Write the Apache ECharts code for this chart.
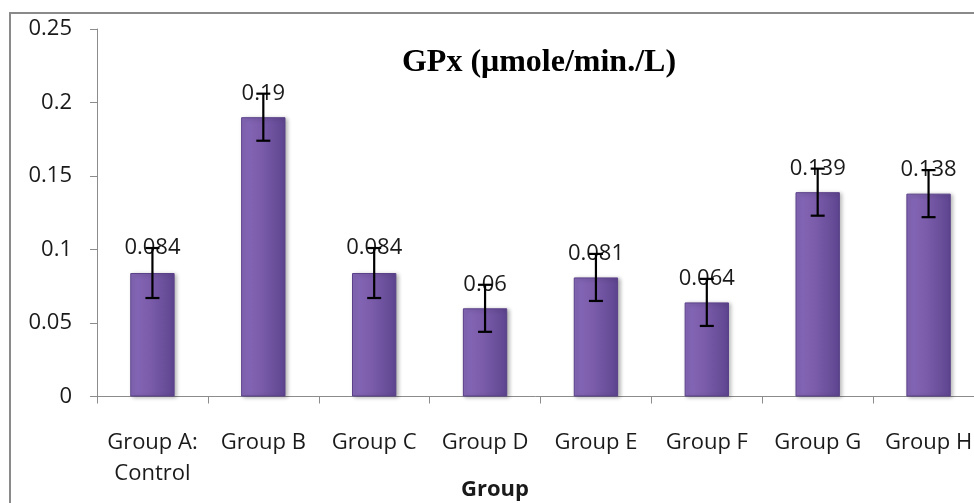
<!DOCTYPE html>
<html>
<head>
<meta charset="utf-8">
<script src="https://cdn.jsdelivr.net/npm/echarts@6/dist/echarts.min.js"></script>
<style>
  html, body { margin: 0; padding: 0; background: #fff; }
  #chart { width: 974px; height: 503px; }
</style>
</head>
<body>
<div id="chart"></div>
<script>
var categories = ['Group A:\nControl', 'Group B', 'Group C', 'Group D', 'Group E', 'Group F', 'Group G', 'Group H'];
var means = [0.084, 0.19, 0.084, 0.06, 0.081, 0.064, 0.139, 0.138];
var errors = [0.017, 0.016, 0.017, 0.016, 0.016, 0.016, 0.016, 0.016];
var yMin = 0, yMax = 0.25, yStep = 0.05;

var chartDom = document.getElementById('chart');
var myChart = echarts.init(chartDom);

var textColor = '#1a1a1a';
var axisColor = '#8c8c8c';

var option = {
  animation: false,
  title: {
    text: 'GPx (\u03bcmole/min./L)',
    left: 534,
    top: 42,
    textAlign: 'center',
    textStyle: {
      fontFamily: 'Liberation Serif',
      fontWeight: 'bold',
      fontSize: 32,
      color: '#000'
    }
  },
  graphic: [
    {
      type: 'rect',
      shape: { x: 10, y: 13, width: 1000, height: 600 },
      style: { fill: 'none', stroke: '#8a8a8a', lineWidth: 2 },
      silent: true
    }
  ],
  grid: {
    left: 97,
    top: 29,
    right: -10,
    bottom: 106.5,
    containLabel: false,
    outerBoundsMode: 'none'
  },
  xAxis: {
    type: 'category',
    data: categories,
    name: 'Group',
    nameLocation: 'middle',
    nameGap: 82,
    nameMoveOverlap: false,
    nameTextStyle: {
      fontFamily: 'Open Sans',
      fontWeight: 'bold',
      fontSize: 22,
      color: textColor,
      padding: [0, 91, 0, 0]
    },
    axisLine: { lineStyle: { color: axisColor, width: 1 } },
    axisTick: { show: true, length: 7, lineStyle: { color: axisColor } },
    axisLabel: {
      margin: 31,
      fontFamily: 'Open Sans',
      fontSize: 22,
      lineHeight: 31,
      color: textColor,
      interval: 0
    }
  },
  yAxis: {
    type: 'value',
    min: yMin,
    max: yMax,
    interval: yStep,
    axisLine: { show: true, lineStyle: { color: axisColor, width: 1 } },
    axisTick: { show: true, length: 7, lineStyle: { color: axisColor } },
    splitLine: { show: false },
    axisLabel: {
      margin: 25,
      fontFamily: 'Open Sans',
      fontSize: 22,
      color: textColor
    }
  },
  series: [
    {
      type: 'bar',
      data: means,
      barWidth: '40%',
      itemStyle: {
        color: new echarts.graphic.LinearGradient(0, 0, 1, 0, [
          { offset: 0, color: '#8769ba' },
          { offset: 0.45, color: '#7a5caa' },
          { offset: 1, color: '#5e4590' }
        ]),
        borderColor: '#5a4089',
        borderWidth: 1,
        shadowBlur: 4,
        shadowColor: 'rgba(0,0,0,0.3)',
        shadowOffsetX: 2,
        shadowOffsetY: 1
      }
    },
    {
      type: 'custom',
      z: 5,
      data: means.map(function (v, i) { return [i, v, errors[i]]; }),
      renderItem: function (params, api) {
        var i = api.value(0);
        var v = api.value(1);
        var e = api.value(2);
        var top = api.coord([i, v + e]);
        var bot = api.coord([i, v - e]);
        var hw = 7;
        var ls = { stroke: '#000', lineWidth: 2.2 };
        return {
          type: 'group',
          children: [
            {
              type: 'text',
              x: top[0],
              y: top[1],
              style: {
                text: String(v),
                fill: textColor,
                fontFamily: 'Open Sans',
                fontSize: 22,
                align: 'center',
                verticalAlign: 'middle'
              }
            },
            { type: 'line', shape: { x1: top[0], y1: top[1], x2: bot[0], y2: bot[1] }, style: ls },
            { type: 'line', shape: { x1: top[0] - hw, y1: top[1], x2: top[0] + hw, y2: top[1] }, style: ls },
            { type: 'line', shape: { x1: bot[0] - hw, y1: bot[1], x2: bot[0] + hw, y2: bot[1] }, style: ls }
          ]
        };
      }
    }
  ]
};

myChart.setOption(option);
</script>
</body>
</html>
